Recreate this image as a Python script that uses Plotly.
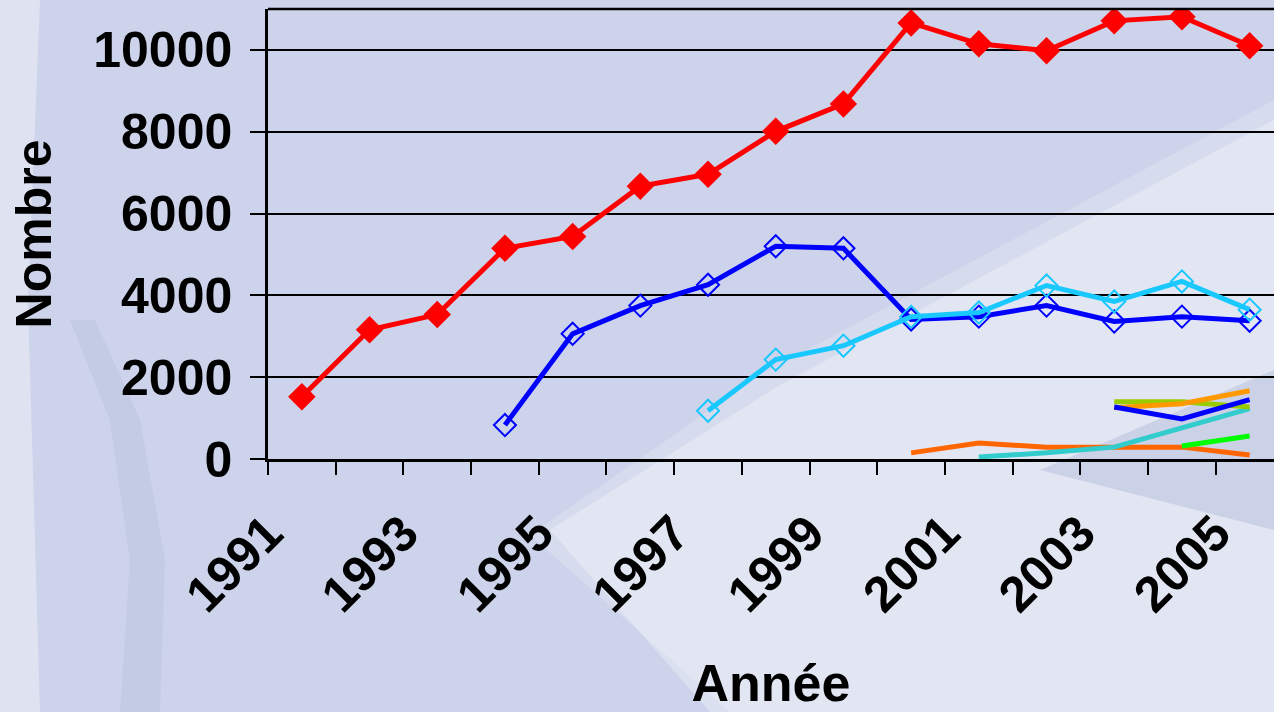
import plotly.graph_objects as go

# Years on the horizontal axis
years = list(range(1991, 2006))

# Series values (None where a series has no value yet)
rouge = [1520, 3160, 3530, 5150, 5440, 6670, 6960, 8010, 8680,
         10660, 10150, 9980, 10710, 10810, 10100]
bleu = [None, None, None, 830, 3060, 3750, 4260, 5200, 5150,
        3410, 3480, 3750, 3360, 3480, 3380]
bleu_clair = [None, None, None, None, None, None, 1180, 2430, 2770,
              3480, 3580, 4240, 3850, 4340, 3650]
orange_fonce = [None] * 9 + [150, 390, 290, 290, 290, 100]
turquoise = [None] * 10 + [50, 150, 290, 760, 1230]
vert = [None] * 13 + [320, 560]
vert_olive = [None] * 12 + [1400, 1400, 1270]
orange_clair = [None] * 12 + [1250, 1350, 1670]
bleu_fonce = [None] * 12 + [1270, 980, 1450]

tick_years = [1991, 1993, 1995, 1997, 1999, 2001, 2003, 2005]
y_ticks = [0, 2000, 4000, 6000, 8000, 10000]

FONT = "Liberation Sans, Arial, sans-serif"

# plot area in pixels (used for the decorative background shapes)
L, R, T, B = 268, 1274, 9, 459


def px(x, y):
    return (x - L) / (R - L), (B - y) / (B - T)


def poly(points):
    pts = [px(x, y) for x, y in points]
    d = "M " + " L ".join(f"{a:.4f},{b:.4f}" for a, b in pts) + " Z"
    return d


fig = go.Figure()

lines = [
    (rouge, "#ff0000", "diamond", 19),
    (bleu, "#0000ff", "diamond-open", 17),
    (bleu_clair, "#19c8ff", "diamond-open", 17),
    (orange_fonce, "#ff6600", None, 0),
    (turquoise, "#33cccc", None, 0),
    (vert, "#00ff00", None, 0),
    (vert_olive, "#99cc00", None, 0),
    (orange_clair, "#ff9900", None, 0),
    (bleu_fonce, "#0000ff", None, 0),
]

for vals, col, sym, size in lines:
    mode = "lines+markers" if sym else "lines"
    fig.add_trace(go.Scatter(
        x=years, y=vals, mode=mode,
        line=dict(color=col, width=5),
        marker=dict(symbol=sym or "circle", size=size, color=col,
                    line=dict(color=col, width=2)),
        connectgaps=False, showlegend=False, hoverinfo="x+y",
    ))

# helper trace carrying the category boundary ticks
fig.add_trace(go.Scatter(x=[1991], y=[None], xaxis="x2", mode="markers",
                         showlegend=False, hoverinfo="skip"))

shapes = [
    # pale diagonal light band in the lower part (two layers for a softer edge)
    dict(type="path", xref="paper", yref="paper", layer="below",
         path=poly([(530, 535), (760, 375), (1274, 100), (1274, 712), (730, 712)]),
         fillcolor="rgba(255,255,255,0.2)", line=dict(width=0)),
    dict(type="path", xref="paper", yref="paper", layer="below",
         path=poly([(550, 530), (780, 385), (1274, 120), (1274, 712), (710, 712)]),
         fillcolor="rgba(255,255,255,0.3)", line=dict(width=0)),
    # darker wedge on the right
    dict(type="path", xref="paper", yref="paper", layer="below",
         path=poly([(1040, 470), (1274, 370), (1274, 530)]),
         fillcolor="rgba(160,170,210,0.35)", line=dict(width=0)),
    # light strip along the left edge
    dict(type="path", xref="paper", yref="paper", layer="below",
         path=poly([(0, 0), (40, 0), (28, 300), (40, 712), (0, 712)]),
         fillcolor="rgba(255,255,255,0.35)", line=dict(width=0)),
    # soft curved band on the left
    dict(type="path", xref="paper", yref="paper", layer="below",
         path=poly([(70, 320), (110, 420), (130, 560), (120, 712),
                    (160, 712), (165, 560), (140, 420), (95, 320)]),
         fillcolor="rgba(150,160,200,0.15)", line=dict(width=0)),
    # frame line along the top
    dict(type="line", xref="paper", yref="paper", x0=0, x1=1, y0=1, y1=1,
         line=dict(color="black", width=2.5)),
]

fig.update_layout(
    width=1274, height=712,
    margin=dict(l=L, r=1274 - R, t=T, b=712 - B, pad=0),
    paper_bgcolor="#ccd3ea",
    plot_bgcolor="rgba(0,0,0,0)",
    font=dict(family=FONT, size=50, color="black"),
    shapes=shapes,
    xaxis=dict(
        range=[1990.5, 1990.5 + 14.86],
        tickmode="array", tickvals=[y - 0.5 for y in tick_years],
        ticktext=[str(v) for v in tick_years],
        tickangle=-45, ticks="outside", ticklen=22,
        tickcolor="rgba(0,0,0,0)",
        tickfont=dict(family=FONT, size=50, color="black", weight="bold"),
        showgrid=False, zeroline=False,
        showline=True, linecolor="black", linewidth=2.5,
        title=dict(text="<b>Année</b>", standoff=46,
                   font=dict(family=FONT, size=52, color="black")),
    ),
    xaxis2=dict(
        overlaying="x", anchor="y", side="bottom",
        range=[1990.5, 1990.5 + 14.86],
        tickmode="array", tickvals=[y + 0.5 for y in range(1990, 2005)],
        ticks="outside", ticklen=15, tickwidth=2, tickcolor="black",
        showticklabels=False, showgrid=False, zeroline=False, showline=False,
    ),
    yaxis=dict(
        range=[0, 11000],
        tickmode="array", tickvals=y_ticks,
        ticktext=[str(v) for v in y_ticks],
        ticks="outside", ticklen=15, tickwidth=2, tickcolor="black",
        ticklabelstandoff=8,
        tickfont=dict(family=FONT, size=50, color="black", weight="bold"),
        showgrid=True, gridcolor="black", gridwidth=2,
        zeroline=False,
        showline=True, linecolor="black", linewidth=2.5,
        title=dict(text="<b>Nombre</b>", standoff=26,
                   font=dict(family=FONT, size=50, color="black")),
    ),
)

fig.write_html("out.html")
